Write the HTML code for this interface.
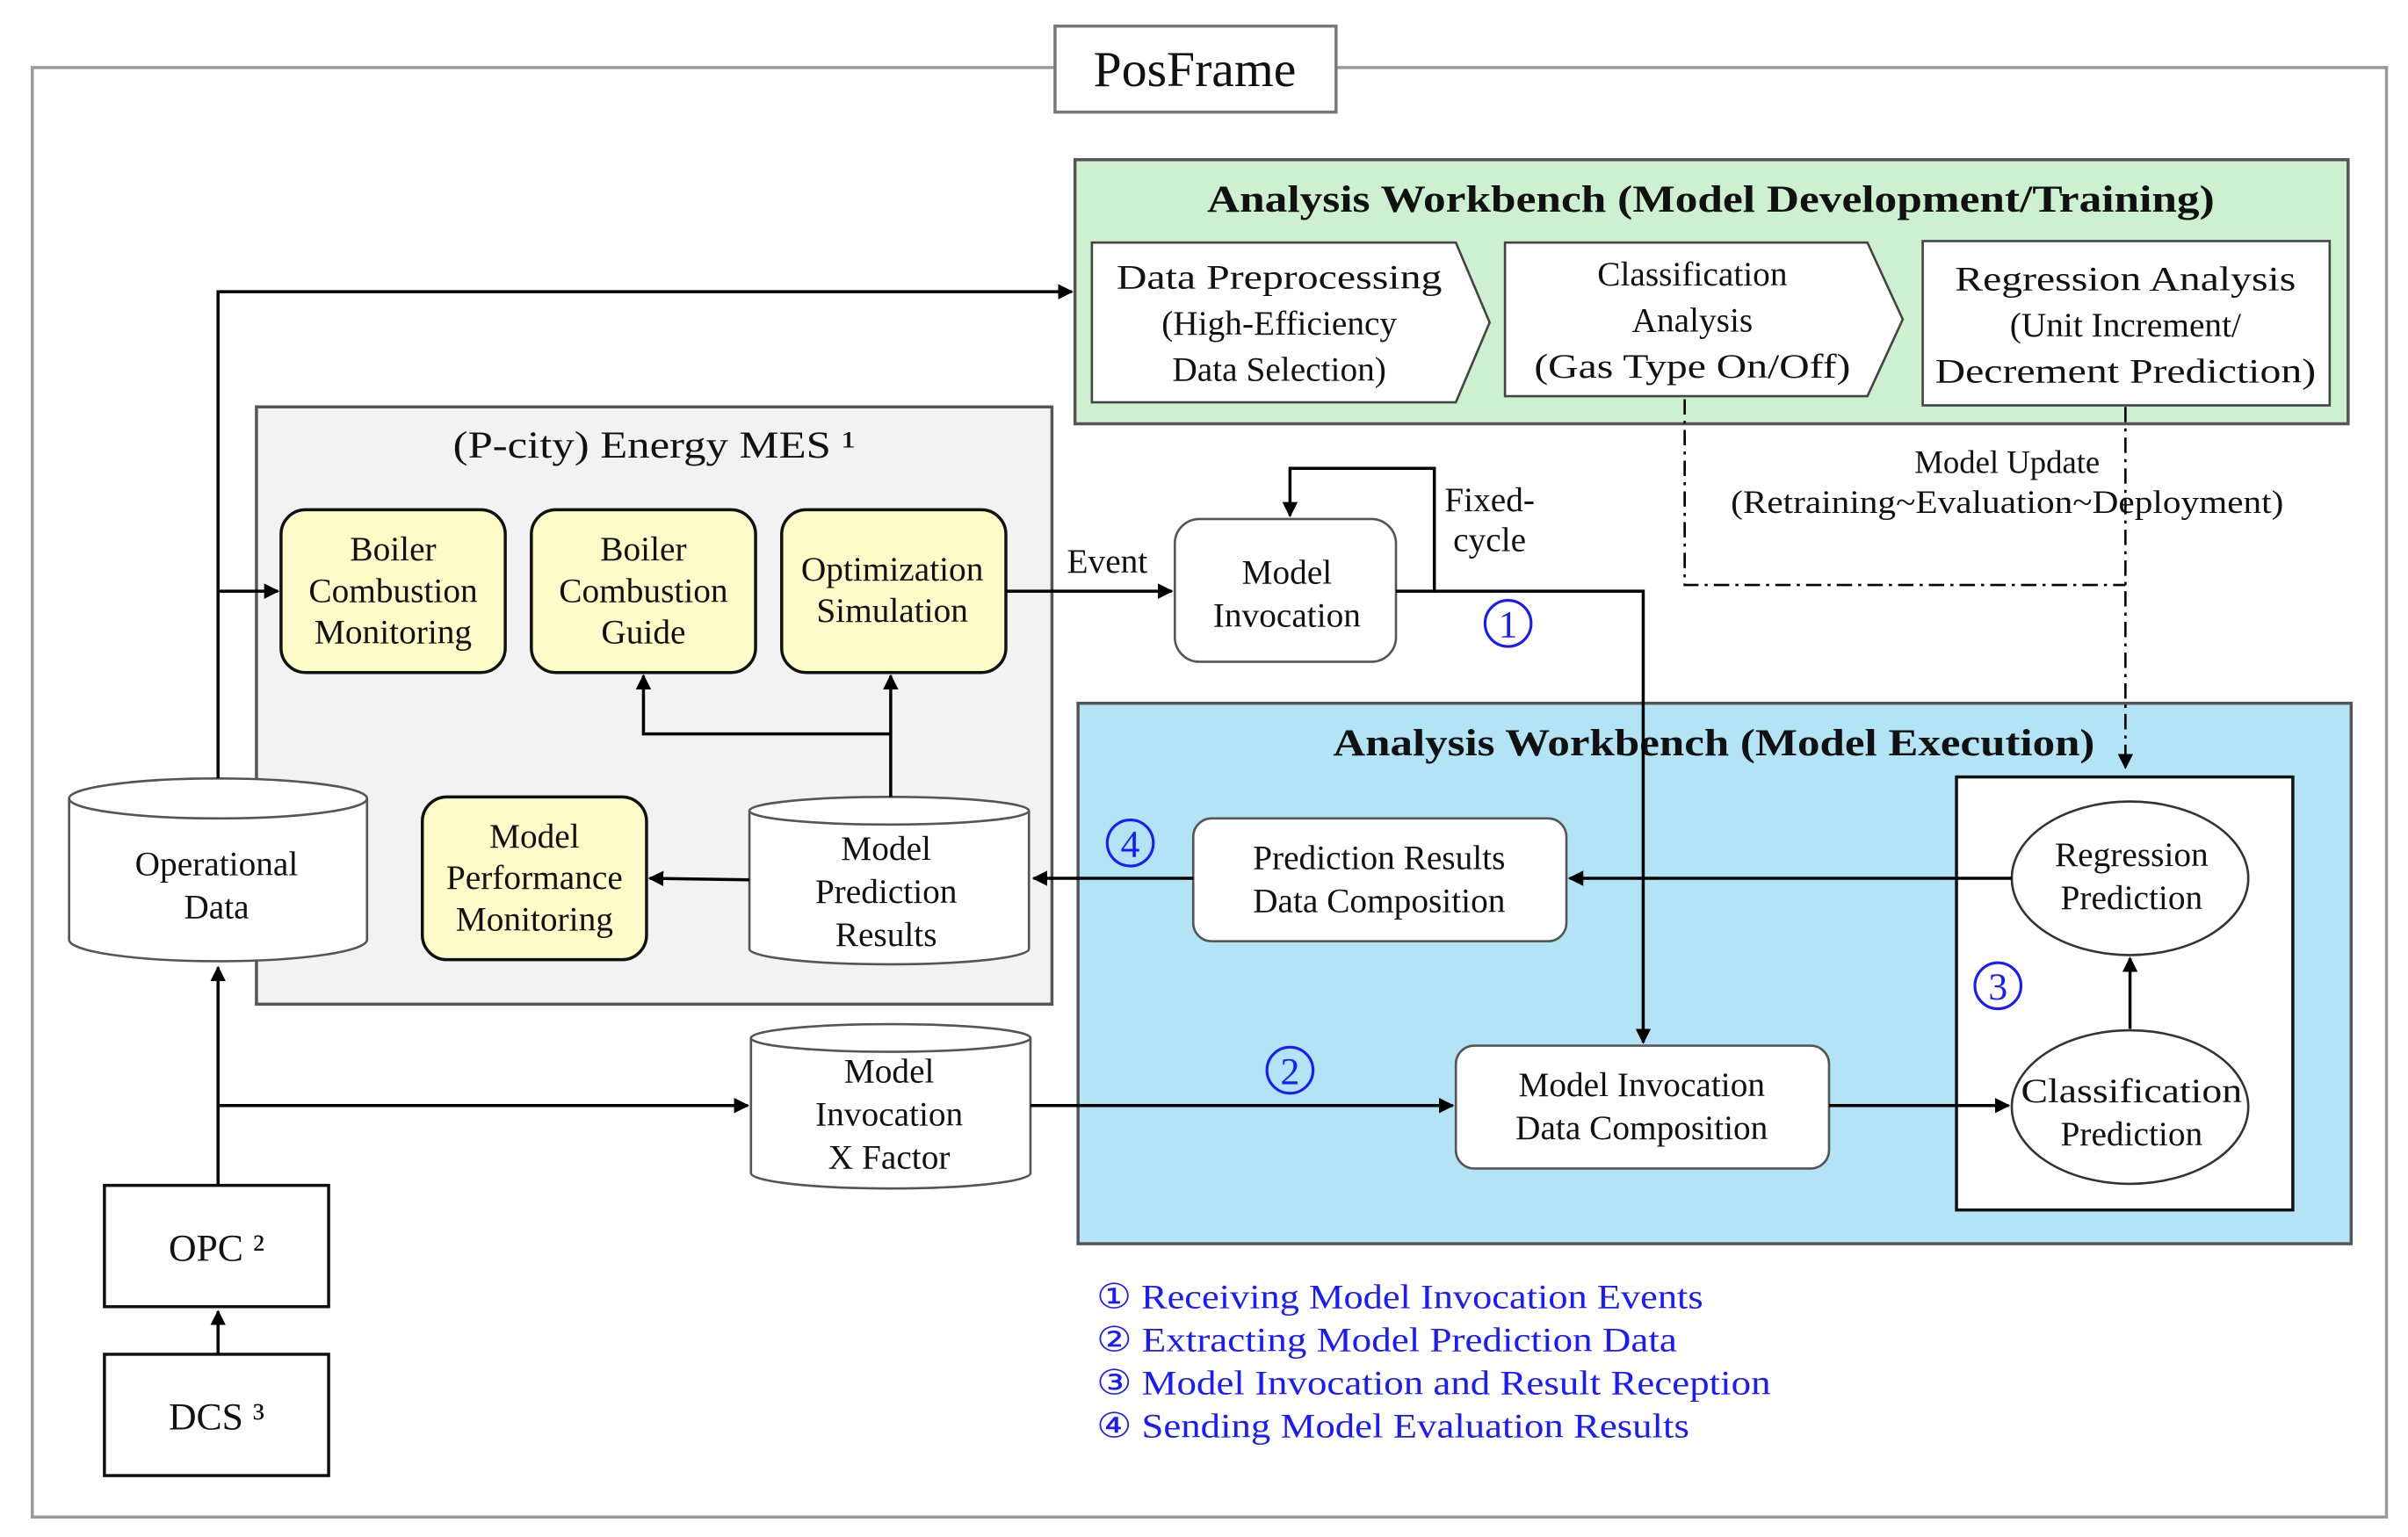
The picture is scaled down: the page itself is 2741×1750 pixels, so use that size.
<!DOCTYPE html>
<html><head><meta charset="utf-8"><style>
html,body{margin:0;padding:0;background:#fff}
svg{display:block}
text{font-family:"Liberation Serif",serif;font-size:22.5px;fill:#111;text-anchor:middle}
.b{font-weight:bold;font-size:25px}
.bl{fill:#1a1aff}
</style></head><body>
<svg width="2741" height="1750" viewBox="0 0 1568 1001" preserveAspectRatio="none" xmlns="http://www.w3.org/2000/svg">
<defs>
<marker id="a" markerWidth="10" markerHeight="10" refX="9" refY="5" orient="auto" markerUnits="userSpaceOnUse"><path d="M0,0 L10,5 L0,10 z" fill="#000"/></marker>
</defs>
<rect x="21" y="44" width="1533" height="944" fill="#fff" stroke="#999" stroke-width="2"/>
<rect x="687" y="17" width="183" height="56" fill="#fff" stroke="#777" stroke-width="2"/>
<text x="778" y="56" style="font-size:33px">PosFrame</text>

<rect x="700" y="104" width="829" height="172" fill="#ccf0d0" stroke="#555" stroke-width="2"/>
<text x="1114" y="138" class="b" textLength="656" lengthAdjust="spacingAndGlyphs">Analysis  Workbench (Model Development/Training)</text>
<polygon points="711,158 948,158 970,210 948,262 711,262" fill="#fff" stroke="#444" stroke-width="1.5"/>
<text x="833" y="188" textLength="212" lengthAdjust="spacingAndGlyphs">Data Preprocessing</text><text x="833" y="218">(High-Efficiency</text><text x="833" y="248">Data Selection)</text>
<polygon points="980,158 1216,158 1239,208 1216,258 980,258" fill="#fff" stroke="#444" stroke-width="1.5"/>
<text x="1102" y="186">Classification</text><text x="1102" y="216">Analysis</text><text x="1102" y="246" textLength="206" lengthAdjust="spacingAndGlyphs">(Gas Type  On/Off)</text>
<rect x="1252" y="157" width="265" height="107" fill="#fff" stroke="#444" stroke-width="1.5"/>
<text x="1384" y="189" textLength="222" lengthAdjust="spacingAndGlyphs">Regression  Analysis</text><text x="1384" y="219">(Unit Increment/</text><text x="1384" y="249" textLength="248" lengthAdjust="spacingAndGlyphs">Decrement  Prediction)</text>

<rect x="167" y="265" width="518" height="389" fill="#f2f2f2" stroke="#555" stroke-width="2"/>
<text x="426" y="298" style="font-size:25px" textLength="262" lengthAdjust="spacingAndGlyphs">(P-city) Energy MES ¹</text>
<rect x="183" y="332" width="146" height="106" rx="16" fill="#fdfbc8" stroke="#111" stroke-width="2"/>
<text x="256" y="365">Boiler</text><text x="256" y="392">Combustion</text><text x="256" y="419">Monitoring</text>
<rect x="346" y="332" width="146" height="106" rx="16" fill="#fdfbc8" stroke="#111" stroke-width="2"/>
<text x="419" y="365">Boiler</text><text x="419" y="392">Combustion</text><text x="419" y="419">Guide</text>
<rect x="509" y="332" width="146" height="106" rx="16" fill="#fdfbc8" stroke="#111" stroke-width="2"/>
<text x="581" y="378">Optimization</text><text x="581" y="405">Simulation</text>
<rect x="275" y="519" width="146" height="106" rx="16" fill="#fdfbc8" stroke="#111" stroke-width="2"/>
<text x="348" y="552">Model</text><text x="348" y="579">Performance</text><text x="348" y="606">Monitoring</text>
<path d="M488,528 L488,618 A91,10 0 0 0 670,618 L670,528" fill="#fff" stroke="#555" stroke-width="1.5"/>
<ellipse cx="579" cy="528" rx="91" ry="9" fill="#fff" stroke="#555" stroke-width="1.5"/>
<text x="577" y="560">Model</text><text x="577" y="588">Prediction</text><text x="577" y="616">Results</text>

<path d="M45,520 L45,612 A97,14 0 0 0 239,612 L239,520" fill="#fff" stroke="#555" stroke-width="1.5"/>
<ellipse cx="142" cy="520" rx="97" ry="13" fill="#fff" stroke="#555" stroke-width="1.5"/>
<text x="141" y="570">Operational</text><text x="141" y="598">Data</text>

<path d="M489,676 L489,764 A91,10 0 0 0 671,764 L671,676" fill="#fff" stroke="#555" stroke-width="1.5"/>
<ellipse cx="580" cy="676" rx="91" ry="9" fill="#fff" stroke="#555" stroke-width="1.5"/>
<text x="579" y="705">Model</text><text x="579" y="733">Invocation</text><text x="579" y="761">X Factor</text>

<rect x="68" y="772" width="146" height="79" fill="#fff" stroke="#111" stroke-width="2"/>
<text x="141" y="821" style="font-size:25px">OPC ²</text>
<rect x="68" y="882" width="146" height="79" fill="#fff" stroke="#111" stroke-width="2"/>
<text x="141" y="931" style="font-size:25px">DCS ³</text>

<rect x="702" y="458" width="829" height="352" fill="#b3e4f5" stroke="#555" stroke-width="2"/>
<text x="1116" y="492" class="b" textLength="496" lengthAdjust="spacingAndGlyphs">Analysis  Workbench (Model Execution)</text>
<rect x="1274" y="506" width="219" height="282" fill="#fff" stroke="#111" stroke-width="2"/>
<ellipse cx="1387" cy="572" rx="77" ry="50" fill="#fff" stroke="#333" stroke-width="1.5"/>
<text x="1388" y="564">Regression</text><text x="1388" y="592">Prediction</text>
<ellipse cx="1387" cy="721" rx="77" ry="50" fill="#fff" stroke="#333" stroke-width="1.5"/>
<text x="1388" y="718" textLength="144" lengthAdjust="spacingAndGlyphs">Classification</text><text x="1388" y="746">Prediction</text>
<rect x="777" y="533" width="243" height="80" rx="12" fill="#fff" stroke="#555" stroke-width="1.5"/>
<text x="898" y="566">Prediction Results</text><text x="898" y="594">Data Composition</text>
<rect x="948" y="681" width="243" height="80" rx="12" fill="#fff" stroke="#555" stroke-width="1.5"/>
<text x="1069" y="714">Model Invocation</text><text x="1069" y="742">Data Composition</text>

<rect x="765" y="338" width="144" height="93" rx="16" fill="#fff" stroke="#555" stroke-width="1.5"/>
<text x="838" y="380">Model</text><text x="838" y="408">Invocation</text>

<g stroke="#000" stroke-width="2" fill="none">
<path d="M142,507 L142,190 L698,190" marker-end="url(#a)"/>
<path d="M142,385 L181,385" marker-end="url(#a)"/>
<path d="M142,772 L142,630" marker-end="url(#a)"/>
<path d="M142,720 L487,720" marker-end="url(#a)"/>
<path d="M142,882 L142,854" marker-end="url(#a)"/>
<path d="M580,519 L580,440" marker-end="url(#a)"/>
<path d="M580,478 L419,478 L419,440" marker-end="url(#a)"/>
<path d="M488,573 L423,572" marker-end="url(#a)"/>
<path d="M655,385 L763,385" marker-end="url(#a)"/>
<path d="M909,385 L934,385 L934,305 L840,305 L840,336" marker-end="url(#a)"/>
<path d="M934,385 L1070,385 L1070,679" marker-end="url(#a)"/>
<path d="M671,720 L946,720" marker-end="url(#a)"/>
<path d="M1191,720 L1308,720" marker-end="url(#a)"/>
<path d="M1387,670 L1387,624" marker-end="url(#a)"/>
<path d="M1310,572 L1022,572" marker-end="url(#a)"/>
<path d="M777,572 L673,572" marker-end="url(#a)"/>
</g>
<g stroke="#000" stroke-width="1.5" fill="none" stroke-dasharray="10,4,2,4">
<path d="M1097,260 L1097,381 L1384,381"/>
<path d="M1384,265 L1384,500" marker-end="url(#a)"/>
</g>

<text x="721" y="373">Event</text>
<text x="970" y="333">Fixed-</text><text x="970" y="359">cycle</text>
<text x="1307" y="308" style="font-size:21px">Model Update</text>
<text x="1307" y="334" style="font-size:21px" textLength="360" lengthAdjust="spacingAndGlyphs">(Retraining~Evaluation~Deployment)</text>

<g fill="none" stroke="#1a1aff" stroke-width="1.8">
<circle cx="982" cy="406" r="15"/><circle cx="840" cy="697" r="15"/>
<circle cx="1301" cy="642" r="15"/><circle cx="736" cy="549" r="15"/>
</g>
<text x="982" y="415" class="bl" style="font-size:25px">1</text>
<text x="840" y="706" class="bl" style="font-size:25px">2</text>
<text x="1301" y="651" class="bl" style="font-size:25px">3</text>
<text x="736" y="558" class="bl" style="font-size:25px">4</text>

<text x="714" y="852" class="bl" style="text-anchor:start" textLength="395" lengthAdjust="spacingAndGlyphs">① Receiving Model Invocation Events</text>
<text x="714" y="880" class="bl" style="text-anchor:start" textLength="378" lengthAdjust="spacingAndGlyphs">② Extracting Model Prediction Data</text>
<text x="714" y="908" class="bl" style="text-anchor:start" textLength="439" lengthAdjust="spacingAndGlyphs">③ Model Invocation and Result Reception</text>
<text x="714" y="936" class="bl" style="text-anchor:start" textLength="386" lengthAdjust="spacingAndGlyphs">④ Sending Model Evaluation Results</text>
</svg>
</body></html>
